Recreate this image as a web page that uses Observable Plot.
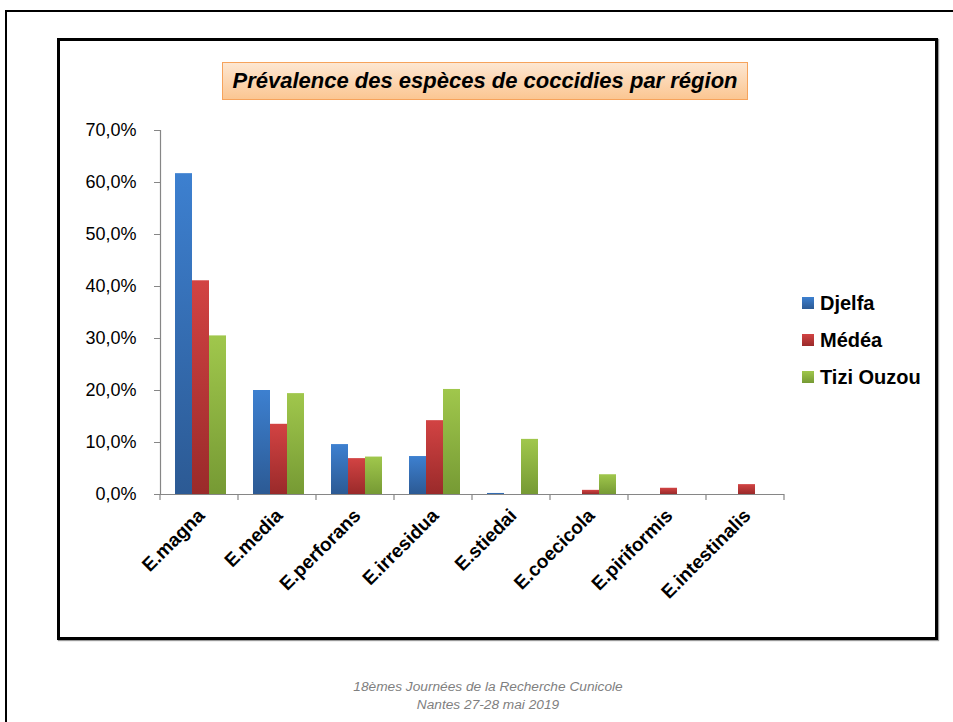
<!DOCTYPE html>
<html>
<head>
<meta charset="utf-8">
<script src="https://cdn.jsdelivr.net/npm/d3@7"></script>
<script src="https://cdn.jsdelivr.net/npm/@observablehq/plot@0.6"></script>
<style>
  html, body { margin: 0; padding: 0; background: #fff; }
  body { width: 953px; height: 722px; position: relative; overflow: hidden; font-family: "Liberation Sans", Arial, sans-serif; }
  .outer { position: absolute; left: 5px; top: 10px; width: 1000px; height: 800px; border: 2px solid #000; box-sizing: border-box; }
  .inner { position: absolute; left: 57px; top: 38px; width: 881px; height: 602px; border: 3px solid #000; box-sizing: border-box; box-shadow: 1px 1px 1px #999; }
  .title { position: absolute; left: 222px; top: 62px; width: 526px; height: 38px; box-sizing: border-box;
           border: 1px solid #f6a35c; background: linear-gradient(#fde7d2, #fbc692);
           font: italic bold 22px "Liberation Sans", Arial, sans-serif; color: #000; text-align: center; line-height: 36px; white-space: nowrap; }
  #chart { position: absolute; left: 60px; top: 110px; }
  .legend { position: absolute; left: 802px; top: 291px; font: bold 20px "Liberation Sans", Arial, sans-serif; color: #000; }
  .legend .item { position: relative; height: 37px; padding-left: 18px; line-height: 24px; white-space: nowrap; }
  .legend .sw { position: absolute; left: 0; top: 6px; width: 12px; height: 12px; }
  .footer { position: absolute; left: 0; width: 976px; text-align: center; font: italic 13.7px "Liberation Sans", Arial, sans-serif; color: #7f7f7f; }
</style>
</head>
<body>
<div class="outer"></div>
<div class="inner"></div>
<div class="title">Prévalence des espèces de coccidies par région</div>
<div id="chart"></div>
<div class="legend" id="legend"></div>
<div class="footer" style="top:679px">18èmes Journées de la Recherche Cunicole</div>
<div class="footer" style="top:697px">Nantes 27-28 mai 2019</div>
<script>
const categories = ["E.magna", "E.media", "E.perforans", "E.irresidua", "E.stiedai", "E.coecicola", "E.piriformis", "E.intestinalis"];
const regions = ["Djelfa", "Médéa", "Tizi Ouzou"];
const djelfa    = [0.617, 0.200, 0.096, 0.073, 0.002, 0.000, 0.000, 0.000];
const medea     = [0.411, 0.135, 0.069, 0.142, 0.000, 0.008, 0.012, 0.019];
const tiziOuzou = [0.305, 0.194, 0.072, 0.202, 0.106, 0.038, 0.000, 0.000];
const yTicks = [0, 0.1, 0.2, 0.3, 0.4, 0.5, 0.6, 0.7];
const colorsTop = ["#3d80d0", "#d24343", "#a0c74c"];
const colorsBottom = ["#2c5a94", "#9a2a2a", "#769a34"];
const gradIds = ["gDjelfa", "gMedea", "gTizi"];

const series = [djelfa, medea, tiziOuzou];
const data = [];
categories.forEach((c, i) => regions.forEach((r, j) => data.push({category: c, region: r, value: series[j][i]})));

const fmt = d => d3.format(".1f")(d * 100).replace(".", ",") + "%";

const plot = Plot.plot({
  width: 740,
  height: 520,
  marginLeft: 97,
  marginRight: 14,
  marginTop: 20,
  marginBottom: 136,
  style: {fontFamily: "Liberation Sans, Arial, sans-serif", background: "transparent", overflow: "visible"},
  fx: {domain: categories, padding: 0, label: null, axis: null},
  x: {domain: regions, paddingInner: 0, paddingOuter: 0.69, align: 0.56, axis: null},
  y: {domain: [0, 0.7], label: null},
  color: {domain: regions, range: gradIds.map(id => `url(#${id})`)},
  marks: [
    Plot.barY(data, {fx: "category", x: "region", y: "value", fill: "region"}),
    Plot.ruleY([0], {stroke: "#868686", strokeWidth: 1.2}),
    Plot.frame({anchor: "left", facetAnchor: "left", stroke: "#868686", strokeWidth: 1.2}),
    Plot.axisY({ticks: yTicks, tickFormat: fmt, tickSize: 6, tickPadding: 18, fontSize: 18, stroke: "#868686", fill: "#000", label: null}),
    Plot.axisFx({anchor: "bottom", tickSize: 0, tickRotate: -45, fontSize: 19, fontWeight: "bold", fill: "#000", tickPadding: 18, dx: 2, label: null})
  ]
});

const svg = d3.select(plot);
const defs = svg.insert("defs", ":first-child");
gradIds.forEach((id, j) => {
  const g = defs.append("linearGradient").attr("id", id).attr("x1", 0).attr("y1", 0).attr("x2", 0).attr("y2", 1);
  g.append("stop").attr("offset", "0%").attr("stop-color", colorsTop[j]);
  g.append("stop").attr("offset", "100%").attr("stop-color", colorsBottom[j]);
});

// category boundary ticks on the x axis, placed with the fx scale
const fx = plot.scale("fx");
const y0 = plot.scale("y").apply(0);
const bounds = categories.map(c => fx.apply(c)).concat([fx.apply(categories[categories.length - 1]) + fx.bandwidth]);
svg.append("g").selectAll("line").data(bounds).join("line")
  .attr("x1", d => d).attr("x2", d => d).attr("y1", y0).attr("y2", y0 + 6)
  .attr("stroke", "#868686").attr("stroke-width", 1.2);

document.getElementById("chart").appendChild(plot);

const legend = document.getElementById("legend");
regions.forEach((r, j) => {
  const item = document.createElement("div");
  item.className = "item";
  item.innerHTML = `<span class="sw" style="background:linear-gradient(${colorsTop[j]}, ${colorsBottom[j]})"></span>${r}`;
  legend.appendChild(item);
});
</script>
</body>
</html>
